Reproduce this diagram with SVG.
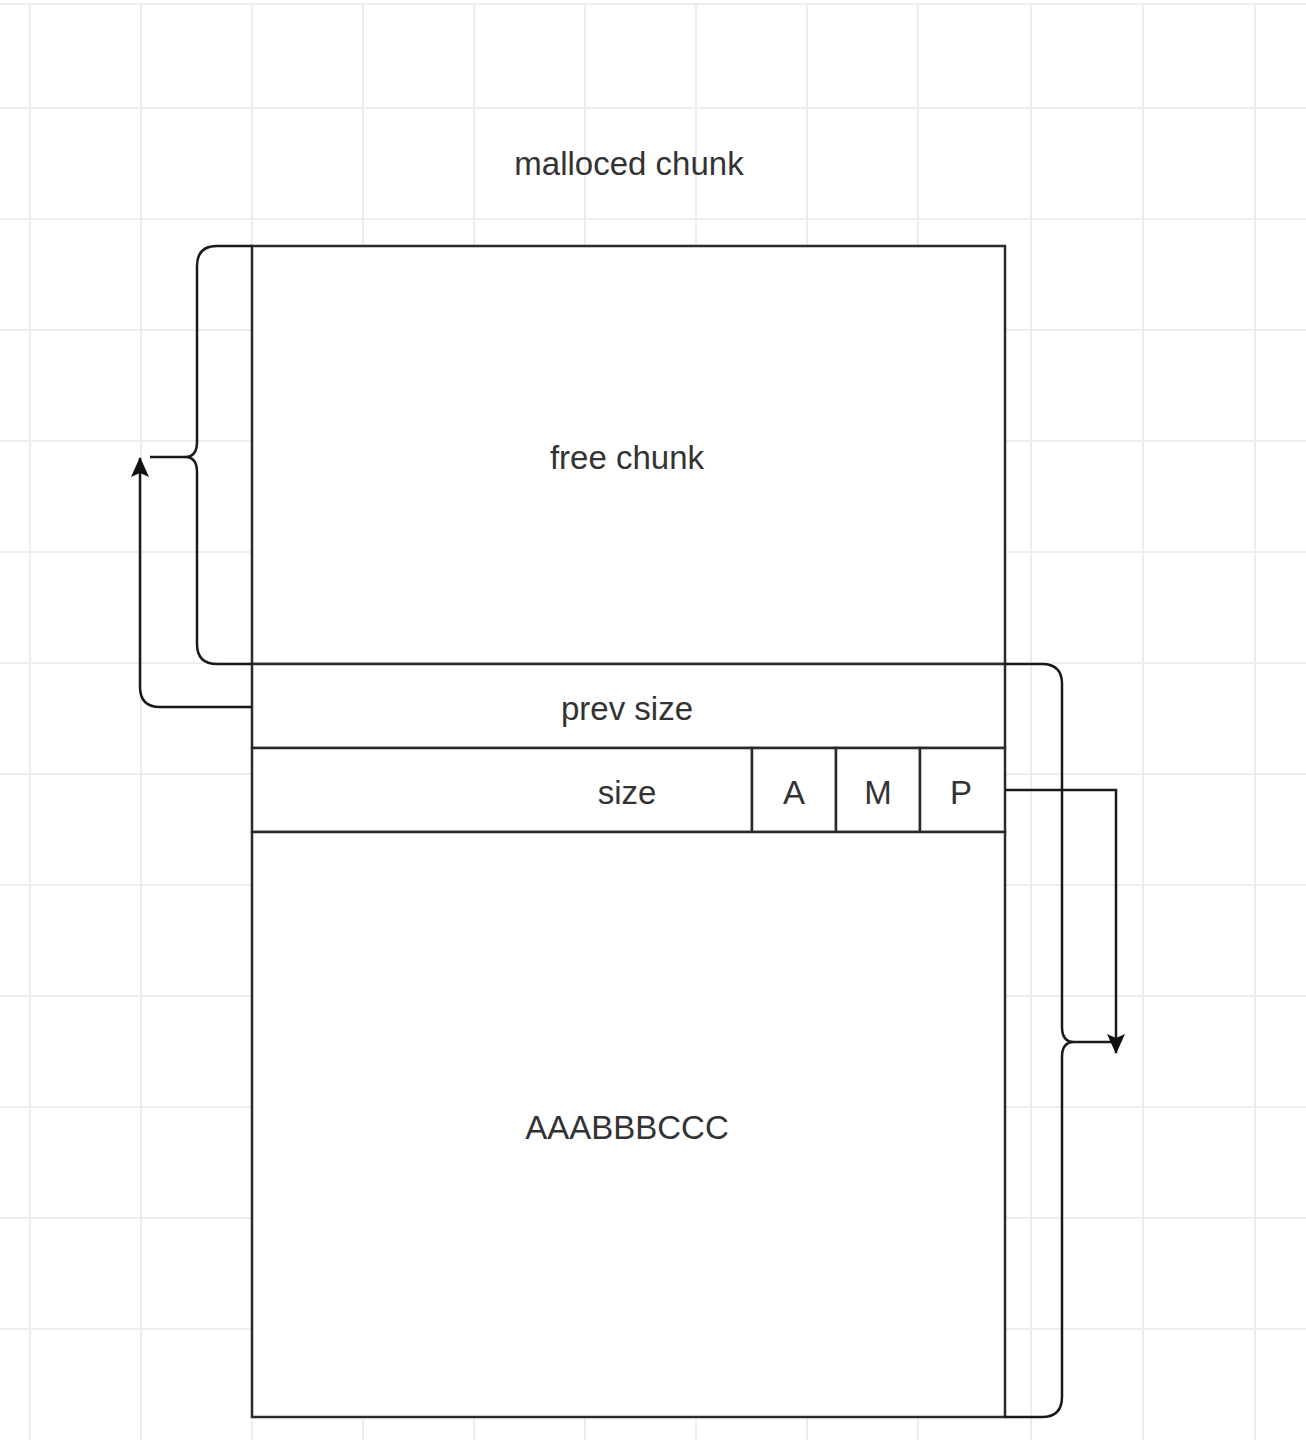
<svg xmlns="http://www.w3.org/2000/svg" width="1306" height="1440" viewBox="0 0 1306 1440">
<style>
.grid line{stroke:#ededed;stroke-width:2}
.box{fill:#ffffff;stroke:#2a2a2a;stroke-width:2.5}
.ln{fill:none;stroke:#1a1a1a;stroke-width:2.5}
.t{font-family:"Liberation Sans",Arial,sans-serif;font-size:33px;fill:#333333;text-anchor:middle;dominant-baseline:central}
</style>
<defs>
<marker id="ah2" viewBox="0 0 20 18" refX="19" refY="9" markerWidth="20" markerHeight="18" orient="auto" markerUnits="userSpaceOnUse">
<path d="M0,0 L20,9 L0,18 L4,9 Z" fill="#111"/>
</marker>
</defs>
<rect x="0" y="0" width="1306" height="1440" fill="#ffffff"/>
<g class="grid">
<line x1="0" y1="4" x2="1306" y2="4" stroke="#dcdcdc"/>
<line x1="30" y1="4" x2="30" y2="1440"/>
<line x1="141" y1="4" x2="141" y2="1440"/>
<line x1="252" y1="4" x2="252" y2="1440"/>
<line x1="363" y1="4" x2="363" y2="1440"/>
<line x1="474" y1="4" x2="474" y2="1440"/>
<line x1="585" y1="4" x2="585" y2="1440"/>
<line x1="696" y1="4" x2="696" y2="1440"/>
<line x1="807" y1="4" x2="807" y2="1440"/>
<line x1="918" y1="4" x2="918" y2="1440"/>
<line x1="1031" y1="4" x2="1031" y2="1440"/>
<line x1="1143" y1="4" x2="1143" y2="1440"/>
<line x1="1255" y1="4" x2="1255" y2="1440"/>
<line x1="0" y1="108" x2="1306" y2="108"/>
<line x1="0" y1="219" x2="1306" y2="219"/>
<line x1="0" y1="330" x2="1306" y2="330"/>
<line x1="0" y1="441" x2="1306" y2="441"/>
<line x1="0" y1="552" x2="1306" y2="552"/>
<line x1="0" y1="663" x2="1306" y2="663"/>
<line x1="0" y1="774" x2="1306" y2="774"/>
<line x1="0" y1="885" x2="1306" y2="885"/>
<line x1="0" y1="996" x2="1306" y2="996"/>
<line x1="0" y1="1107" x2="1306" y2="1107"/>
<line x1="0" y1="1218" x2="1306" y2="1218"/>
<line x1="0" y1="1329" x2="1306" y2="1329"/>
</g>
<g id="title"><text class="t" x="629" y="163">malloced chunk</text></g>
<g id="free-chunk"><rect class="box" x="252" y="246" width="753" height="418"/><text class="t" x="627" y="457">free chunk</text></g>
<g id="prev-size"><rect class="box" x="252" y="664" width="753" height="84"/><text class="t" x="627" y="708">prev size</text></g>
<g id="size"><rect class="box" x="252" y="748" width="500" height="84"/><text class="t" x="627" y="792">size</text></g>
<g id="flag-a"><rect class="box" x="752" y="748" width="84" height="84"/><text class="t" x="794" y="792">A</text></g>
<g id="flag-m"><rect class="box" x="836" y="748" width="84" height="84"/><text class="t" x="878" y="792">M</text></g>
<g id="flag-p"><rect class="box" x="920" y="748" width="85" height="84"/><text class="t" x="961" y="792">P</text></g>
<g id="data"><rect class="box" x="252" y="832" width="753" height="585"/><text class="t" x="627" y="1127">AAABBBCCC</text></g>
<g id="left-brace"><path class="ln" d="M252,246 H217 Q197,246 197,266 V442 Q197,457 185,457 Q197,457 197,472 V644 Q197,664 217,664 H252"/></g>
<g id="right-brace"><path class="ln" d="M1005,664 H1042 Q1062,664 1062,684 V1027 Q1062,1042 1074,1042 Q1062,1042 1062,1057 V1397 Q1062,1417 1042,1417 H1005"/></g>
<g id="connectors">
<path class="ln" d="M185,457 H150"/>
<path class="ln" d="M252,707 H160 Q140,707 140,687 V458" marker-end="url(#ah2)"/>
<path class="ln" d="M1074,1042 H1114"/>
<path class="ln" d="M1005,790 H1116 V1053" marker-end="url(#ah2)"/>
</g>
</svg>
